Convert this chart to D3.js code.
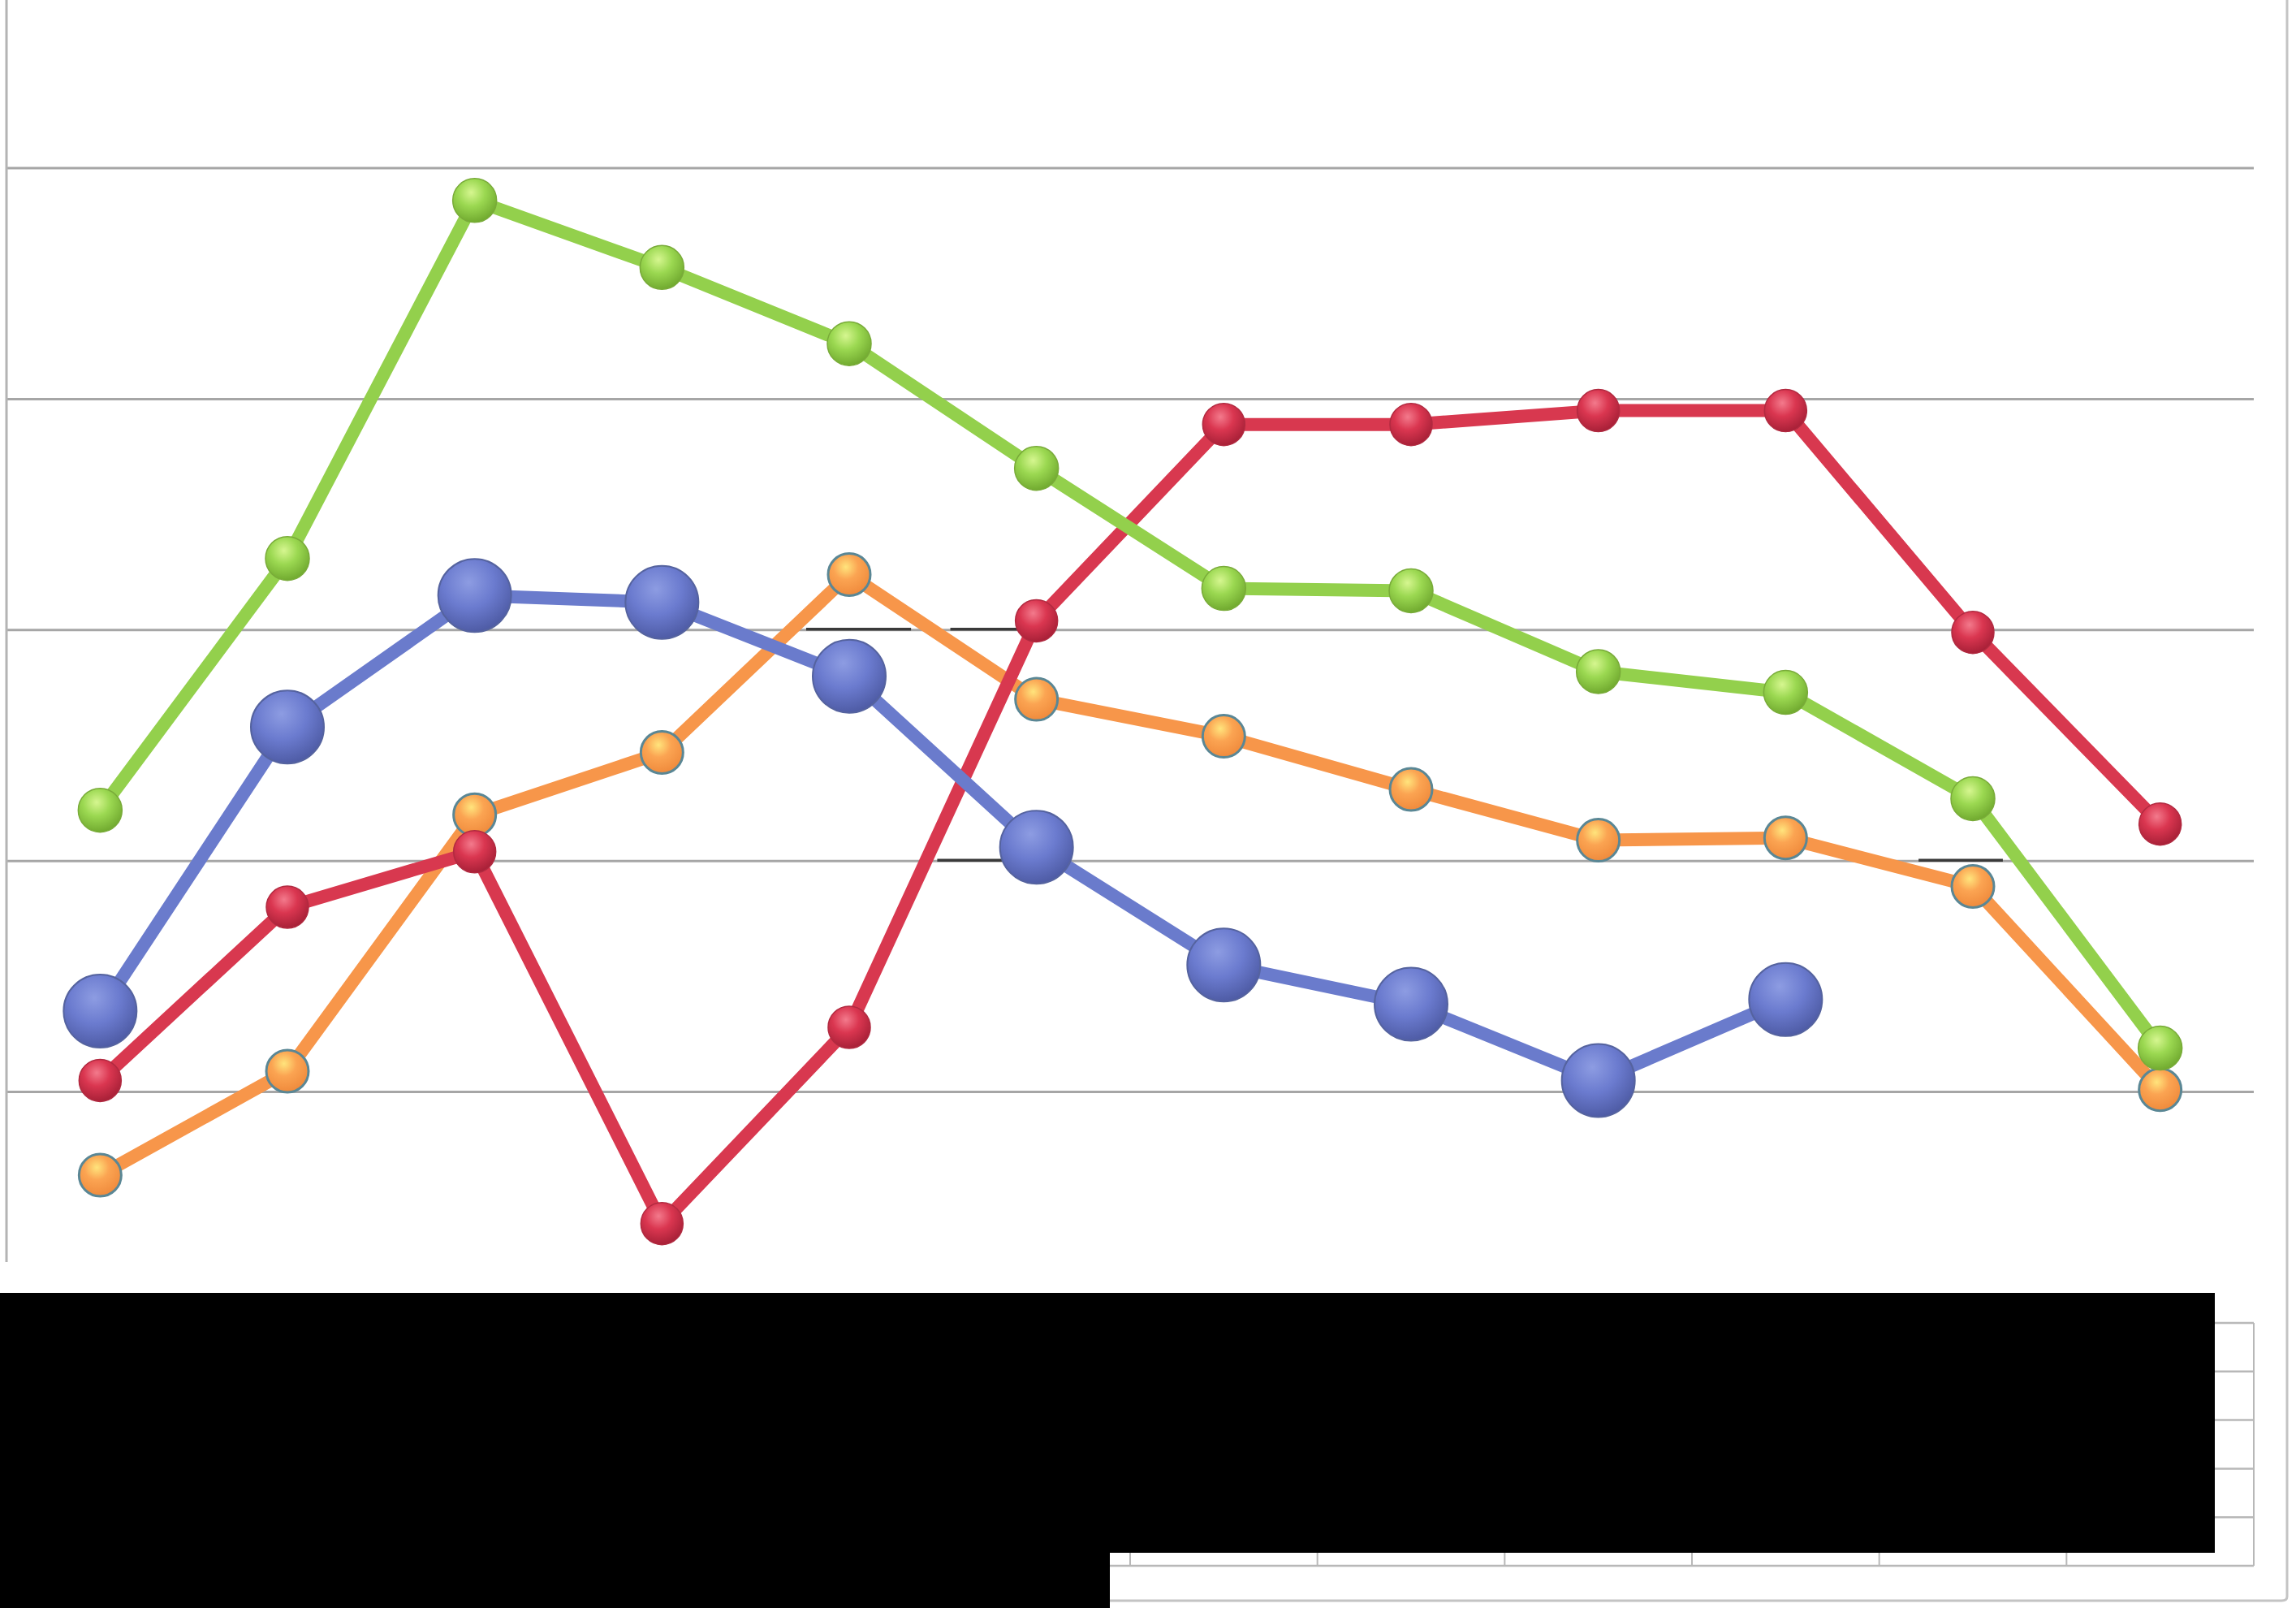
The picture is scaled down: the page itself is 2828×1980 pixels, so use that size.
<!DOCTYPE html>
<html>
<head>
<meta charset="utf-8">
<script src="https://cdn.jsdelivr.net/npm/d3@7"></script>
<style>
  body { margin: 0; background: #fff; }
  svg { display: block; }
</style>
</head>
<body>
<div id="chart"></div>
<script>
// Chart data (the y labels are not visible)
const categories = ['1', '2', '3', '4', '5', '6', '7', '8', '9', '10', '11', '12'];
const gridTicks = [0, 10, 20, 30, 40, 50];

const orangeValues = [6.4, 10.9, 22.0, 24.7, 32.4, 27.0, 25.4, 23.1, 20.9, 21.0, 18.9, 10.1];
const redValues    = [10.5, 18.0, 20.4, 4.3, 12.8, 30.4, 38.9, 38.9, 39.5, 39.5, 29.9, 21.6];
const greenValues  = [22.2, 33.1, 48.6, 45.7, 42.4, 37.0, 31.8, 31.7, 28.2, 27.3, 22.7, 11.9];
const blueValues   = [13.5, 25.8, 31.5, 31.2, 28.0, 20.6, 15.5, 13.8, 10.5, 14.0, null, null];

const W = 2828, H = 1980;
const plot = { left: 8, right: 2776, zeroY: 1629, topY: -77.4 };
const tableRows = 5; // category row + one per series (hidden under the redaction)
const rowH = 59.8;

// Drawing order matters: later series sit on top
const series = [
  { key: 'orange', values: orangeValues, line: '#f7964a', r: 26, stroke: '#5a8795', sw: 3,
    stops: [['0%', '#ffe47c'], ['42%', '#fba452'], ['100%', '#ef893b']] },
  { key: 'red', values: redValues, line: '#d8384f', r: 26, stroke: '#b12a40', sw: 1.5,
    stops: [['0%', '#f37a8c'], ['45%', '#da3650'], ['100%', '#a51f36']] },
  { key: 'green', values: greenValues, line: '#93d04c', r: 27, stroke: '#79ab39', sw: 1.5,
    stops: [['0%', '#d6f690'], ['45%', '#9bd851'], ['100%', '#6fa82e']] },
  { key: 'blue', values: blueValues, line: '#6a7bcc', r: 45, stroke: '#55639f', sw: 2,
    stops: [['0%', '#8d9ce2'], ['50%', '#6b7bcf'], ['100%', '#4d5aa3']] }
];

// faint dark streaks the scanner left on some gridlines (tick value, category-index span)
const scanMarks = [
  { tick: 30, from: 3.77, to: 4.33 },
  { tick: 30, from: 4.54, to: 4.94 },
  { tick: 20, from: 4.47, to: 4.90 },
  { tick: 20, from: 9.71, to: 10.16 }
];

const svg = d3.select('#chart').append('svg')
  .attr('width', W)
  .attr('height', H);

svg.append('rect').attr('width', W).attr('height', H).attr('fill', '#fff');

const defs = svg.append('defs');
series.forEach(s => {
  const g = defs.append('radialGradient')
    .attr('id', 'grad-' + s.key)
    .attr('cx', '42%').attr('cy', '32%').attr('r', '70%');
  s.stops.forEach(([o, c]) => g.append('stop').attr('offset', o).attr('stop-color', c));
});

// Scales
const xScale = d3.scalePoint()
  .domain(categories)
  .range([plot.left, plot.right])
  .padding(0.5);
const step = xScale.step();

const yScale = d3.scaleLinear()
  .domain([0, 60])
  .range([plot.zeroY, plot.topY]);

// Outer chart frame (right and bottom edges are what survives of it)
svg.append('path')
  .attr('d', `M${W - 11},0 L${W - 11},${H - 14} Q${W - 11},${H - 9} ${W - 18},${H - 9} L1360,${H - 9}`)
  .attr('fill', 'none')
  .attr('stroke', '#c4c4c4')
  .attr('stroke-width', 3);

// Horizontal gridlines
svg.append('g')
  .selectAll('line')
  .data(gridTicks.filter(d => d > 0))
  .enter().append('line')
  .attr('x1', plot.left)
  .attr('x2', plot.right)
  .attr('y1', d => yScale(d))
  .attr('y2', d => yScale(d))
  .attr('stroke', '#a6a6a6')
  .attr('stroke-width', 3);

// Scanner streaks
svg.append('g')
  .selectAll('line')
  .data(scanMarks)
  .enter().append('line')
  .attr('x1', d => xScale(categories[0]) + d.from * step)
  .attr('x2', d => xScale(categories[0]) + d.to * step)
  .attr('y1', d => yScale(d.tick) - 1)
  .attr('y2', d => yScale(d.tick) - 1)
  .attr('stroke', '#3a3a3a')
  .attr('stroke-width', 3.5);

// Vertical axis line
svg.append('line')
  .attr('x1', plot.left).attr('x2', plot.left)
  .attr('y1', 0).attr('y2', yScale(0) - 75)
  .attr('stroke', '#b4b4b4')
  .attr('stroke-width', 3);

// Data table grid below the plot
const table = svg.append('g').attr('stroke', '#b8b8b8').attr('stroke-width', 2.5);
table.selectAll('.row-line')
  .data(d3.range(tableRows + 1))
  .enter().append('line')
  .attr('class', 'row-line')
  .attr('x1', plot.left)
  .attr('x2', plot.right)
  .attr('y1', i => plot.zeroY + i * rowH)
  .attr('y2', i => plot.zeroY + i * rowH);

table.selectAll('.col-line')
  .data(categories.concat(['end']))
  .enter().append('line')
  .attr('class', 'col-line')
  .attr('x1', (d, i) => xScale(categories[0]) - step / 2 + i * step)
  .attr('x2', (d, i) => xScale(categories[0]) - step / 2 + i * step)
  .attr('y1', plot.zeroY)
  .attr('y2', plot.zeroY + tableRows * rowH)
  .attr('stroke-width', 2);

table.selectAll('.cat-label')
  .data(categories)
  .enter().append('text')
  .attr('class', 'cat-label')
  .attr('x', d => xScale(d))
  .attr('y', plot.zeroY + rowH * 0.65)
  .attr('text-anchor', 'middle')
  .attr('stroke', 'none')
  .attr('fill', '#404040')
  .style('font-family', 'Liberation Sans, Arial, sans-serif')
  .style('font-size', '30px')
  .text(d => d);

// Lines
const line = d3.line()
  .defined(d => d.value != null)
  .x(d => xScale(d.cat))
  .y(d => yScale(d.value));

series.forEach(s => {
  const pts = categories.map((c, i) => ({ cat: c, value: s.values[i] }));
  const g = svg.append('g').attr('class', 'series-' + s.key);

  g.append('path')
    .datum(pts)
    .attr('d', line)
    .attr('fill', 'none')
    .attr('stroke', s.line)
    .attr('stroke-width', 16)
    .attr('stroke-linejoin', 'round');

  g.selectAll('circle')
    .data(pts.filter(d => d.value != null))
    .enter().append('circle')
    .attr('cx', d => xScale(d.cat))
    .attr('cy', d => yScale(d.value))
    .attr('r', s.r)
    .attr('fill', `url(#grad-${s.key})`)
    .attr('stroke', s.stroke)
    .attr('stroke-width', s.sw);
});

// Redaction block covering the data table
svg.append('path')
  .attr('d', `M0,1592 H2728 V1912 H1367 V${H} H0 Z`)
  .attr('fill', '#000');
</script>
</body>
</html>
